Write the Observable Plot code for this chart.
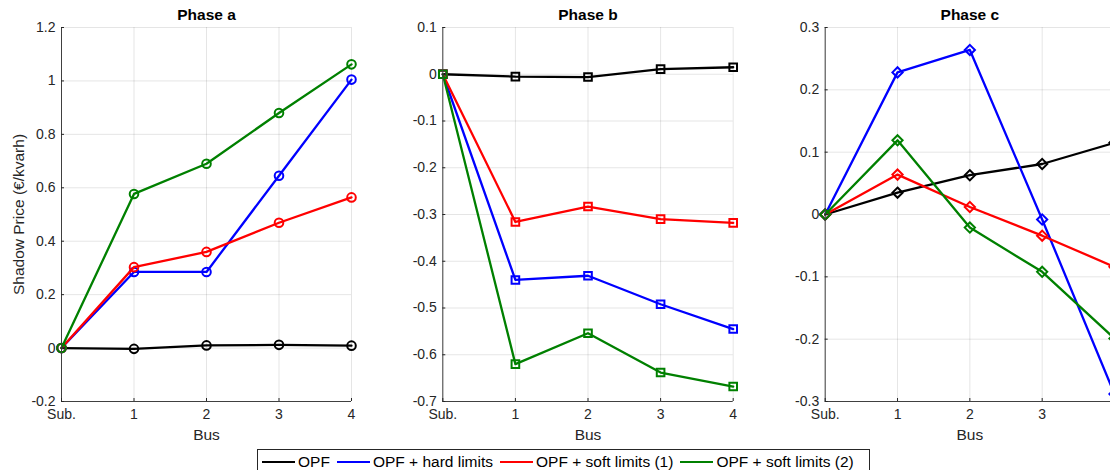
<!DOCTYPE html>
<html>
<head>
<meta charset="utf-8">
<script src="https://cdn.jsdelivr.net/npm/d3@7"></script>
<script src="https://cdn.jsdelivr.net/npm/@observablehq/plot@0.6"></script>
<style>
  html, body { margin: 0; padding: 0; background: #fff; overflow: hidden; }
  #wrap { position: relative; width: 1110px; height: 470px; overflow: hidden; background: #fff;
          font-family: "Liberation Sans", Arial, sans-serif; color: #262626; }
  .panel { position: absolute; top: 0; }
  #legend { position: absolute; left: 257px; top: 449px; width: 613px; height: 26px;
            border: 1px solid #262626; background: #fff; box-sizing: border-box;
            display: flex; align-items: center; padding-left: 4px; font-size: 15.5px; color: #000; }
  .item { display: flex; align-items: center; margin-right: 7px; }
  .swatch { width: 33px; height: 0; border-top: 2.5px solid; margin-right: 3px; }
</style>
</head>
<body>
<div id="wrap"></div>
<script>
// ---- data ----
const busLabels = ["Sub.", "1", "2", "3", "4"];
const busIndex = [0, 1, 2, 3, 4];
const seriesNames = ["OPF", "OPF + hard limits", "OPF + soft limits (1)", "OPF + soft limits (2)"];
const seriesColors = ["#000000", "#0000ff", "#ff0000", "#008000"];

// Phase a
const aOPF   = [0, -0.003, 0.010, 0.012, 0.009];
const aHard  = [0, 0.285, 0.285, 0.645, 1.005];
const aSoft1 = [0, 0.303, 0.360, 0.469, 0.564];
const aSoft2 = [0, 0.577, 0.690, 0.880, 1.062];
const yTicksA = [-0.2, 0, 0.2, 0.4, 0.6, 0.8, 1, 1.2];

// Phase b
const bOPF   = [0, -0.005, -0.006, 0.011, 0.015];
const bHard  = [0, -0.440, -0.431, -0.492, -0.545];
const bSoft1 = [0, -0.316, -0.283, -0.310, -0.318];
const bSoft2 = [0, -0.620, -0.554, -0.638, -0.668];
const yTicksB = [-0.7, -0.6, -0.5, -0.4, -0.3, -0.2, -0.1, 0, 0.1];

// Phase c
const cOPF   = [0, 0.035, 0.063, 0.081, 0.115];
const cHard  = [0, 0.228, 0.264, -0.008, -0.288];
const cSoft1 = [0, 0.064, 0.012, -0.034, -0.084];
const cSoft2 = [0, 0.119, -0.021, -0.092, -0.199];
const yTicksC = [-0.3, -0.2, -0.1, 0, 0.1, 0.2, 0.3];

const titles = ["Phase a", "Phase b", "Phase c"];
const xLabel = "Bus";
const yLabel = "Shadow Price (€/kvarh)";

// ---- build ----
const fmt = d => String(Math.round(d * 10) / 10);

function rowsFor(seriesArrays) {
  return seriesArrays.map((vals, si) =>
    busIndex.map(i => ({bus: i, value: vals[i], series: seriesNames[si]})));
}

function panel({title, series, yTicks, symbol, r, showYLabel, left, ml, mr}) {
  const yDomain = [yTicks[0], yTicks[yTicks.length - 1]];
  const groups = rowsFor(series);
  const seriesMarks = [];
  groups.forEach((rows, si) => {
    seriesMarks.push(Plot.line(rows, {x: "bus", y: "value", stroke: seriesColors[si], strokeWidth: 2.3}));
    seriesMarks.push(Plot.dot(rows, {x: "bus", y: "value", stroke: seriesColors[si], fill: "none",
                                     strokeWidth: 2, symbol, r}));
  });
  const chart = Plot.plot({
    width: 380, height: 445,
    marginLeft: ml, marginRight: mr, marginTop: 27, marginBottom: 44,
    style: {fontFamily: "Liberation Sans, Arial, sans-serif", fontSize: "14px", color: "#262626",
            background: "transparent", overflow: "visible"},
    x: {domain: [0, 4]},
    y: {domain: yDomain},
    marks: [
      Plot.gridX(busIndex, {stroke: "#000", strokeOpacity: 0.1}),
      Plot.gridY(yTicks, {stroke: "#000", strokeOpacity: 0.1}),
      ...seriesMarks,
      Plot.ruleX([0], {stroke: "#404040", strokeWidth: 1}),
      Plot.ruleY([yDomain[0]], {stroke: "#404040", strokeWidth: 1}),
      Plot.axisX(busIndex, {tickSize: -3, tickPadding: 11, tickFormat: i => busLabels[i], label: null, color: "#262626", fontSize: 14}),
      Plot.axisY(yTicks, {tickSize: -3, tickPadding: 9, tickFormat: fmt, label: null, color: "#262626", fontSize: 14}),
      Plot.text([title], {text: d => d, frameAnchor: "top", lineAnchor: "middle", textAnchor: "middle", dy: -12.8, fontWeight: "bold", fontSize: 15.5, fill: "#000"}),
      Plot.text([xLabel], {text: d => d, frameAnchor: "bottom", lineAnchor: "middle", textAnchor: "middle", dy: 33.5, fontSize: 15.5, fill: "#262626"}),
      showYLabel ? Plot.text([yLabel], {text: d => d, frameAnchor: "left", lineAnchor: "middle", textAnchor: "middle", dx: -42.5, rotate: -90, fontSize: 15.5, fill: "#262626"}) : null
    ]
  });
  chart.classList.add("panel");
  chart.style.left = left + "px";
  return chart;
}

const wrap = document.getElementById("wrap");
wrap.appendChild(panel({title: titles[0], series: [aOPF, aHard, aSoft1, aSoft2], yTicks: yTicksA,
  symbol: "circle", r: 4.3, showYLabel: true, left: 0, ml: 61, mr: 29}));
wrap.appendChild(panel({title: titles[1], series: [bOPF, bHard, bSoft1, bSoft2], yTicks: yTicksB,
  symbol: "square", r: 4.3, showYLabel: false, left: 380, ml: 62.3, mr: 27.3}));
wrap.appendChild(panel({title: titles[2], series: [cOPF, cHard, cSoft1, cSoft2], yTicks: yTicksC,
  symbol: "diamond2", r: 4.6, showYLabel: false, left: 760, ml: 64.7, mr: 26}));

// legend
const legend = document.createElement("div");
legend.id = "legend";
seriesNames.forEach((name, i) => {
  const item = document.createElement("div");
  item.className = "item";
  const sw = document.createElement("span");
  sw.className = "swatch";
  sw.style.borderTopColor = seriesColors[i];
  const label = document.createElement("span");
  label.textContent = name;
  item.appendChild(sw);
  item.appendChild(label);
  legend.appendChild(item);
});
wrap.appendChild(legend);
</script>
</body>
</html>
